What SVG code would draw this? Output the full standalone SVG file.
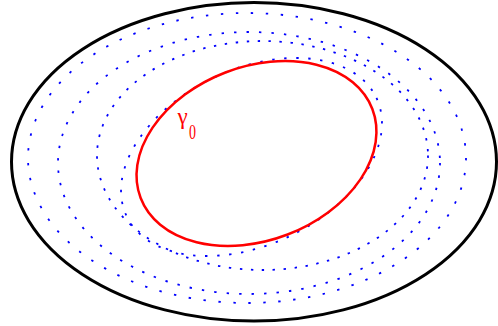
<svg xmlns="http://www.w3.org/2000/svg" width="498" height="326" viewBox="0 0 498 326">
  <style>
    .outer { fill: none; stroke: #000000; stroke-width: 3; }
    .level { fill: none; stroke: #0000ff; stroke-width: 1.8; }
    .gamma { fill: none; stroke: #ff0000; stroke-width: 2.5; }
    .label { fill: #ff0000; font-family: "Liberation Serif", "Times New Roman", serif; }
  </style>
  <rect x="0" y="0" width="498" height="326" fill="#ffffff"/>
  <g id="domain">
    <ellipse class="outer" cx="254" cy="161.8" rx="242.5" ry="159.3"/>
  </g>
  <g id="levels">
    <ellipse id="level1" class="level" cx="247" cy="158" rx="219" ry="145" stroke-dasharray="2.4 12.6"/>
    <ellipse id="level2" class="level" cx="249" cy="163" rx="191" ry="131" stroke-dasharray="2.4 10.1"/>
    <ellipse id="level3" class="level" cx="262.5" cy="155.5" rx="165.5" ry="114.5" stroke-dasharray="2.4 8.6"/>
    <ellipse id="level4" class="level" cx="251.5" cy="157" rx="138.2" ry="87.9" transform="rotate(-25.3 251.5 157)" stroke-dasharray="2.4 9.6"/>
  </g>
  <g id="gamma0">
    <ellipse class="gamma" cx="256.5" cy="153.5" rx="124.1" ry="86.8" transform="rotate(-21 256.5 153.5)"/>
    <text class="label" x="177.5" y="124" font-size="23">γ</text>
    <text class="label" font-size="14" transform="translate(189 139.3) scale(1 1.55)">0</text>
  </g>
</svg>
